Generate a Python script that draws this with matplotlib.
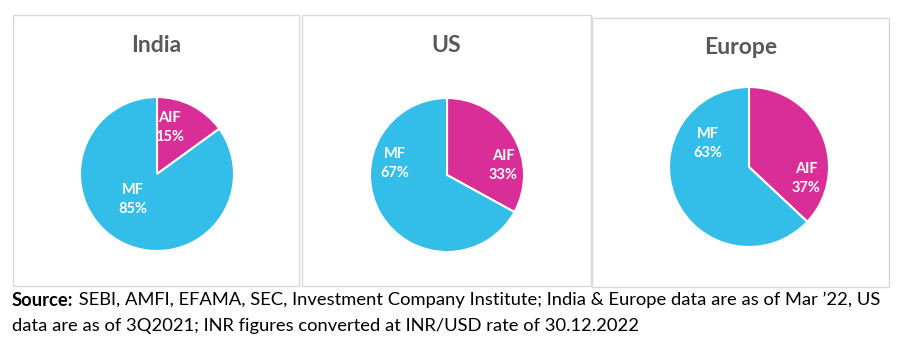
import matplotlib.pyplot as plt
import numpy as np
from matplotlib.patches import Rectangle

plt.rcParams['font.family'] = ['Lato', 'DejaVu Sans']

# data
regions = ['India', 'US', 'Europe']
segments = ['AIF', 'MF']
aif_share = [15, 33, 37]
mf_share = [85, 67, 63]

source_bold = 'Source:'
source_rest = (' SEBI, AMFI, EFAMA, SEC, Investment Company Institute; India & Europe data are as of Mar \u201922, US\n'
               'data are as of 3Q2021; INR figures converted at INR/USD rate of 30.12.2022')

# layout in pixels (panel box, pie centre + radius, title y)
W, H = 906, 346
panels = [(13, 15, 299, 286), (302, 15, 591, 286), (592, 18, 889, 287)]
pies = [(157, 174, 77), (447, 175, 77), (749, 167, 80)]
title_y = [45, 45, 47]
# label placement: (angle clockwise from top in deg, radius fraction) for AIF, MF
label_pos = [[(15, 0.63), (223, 0.46)],
             [(80, 0.74), (283, 0.69)],
             [(101, 0.73), (300, 0.59)]]

cyan = '#33BDE9'
magenta = '#D92E98'
grey = '#595959'


def fbox(x0, y0, x1, y1):
    return [x0 / W, 1 - y1 / H, (x1 - x0) / W, (y1 - y0) / H]


fig = plt.figure(figsize=(W / 100, H / 100), dpi=100)

for i, region in enumerate(regions):
    x0, y0, x1, y1 = panels[i]
    fig.add_artist(Rectangle((x0 / W, 1 - y1 / H), (x1 - x0) / W, (y1 - y0) / H,
                             transform=fig.transFigure, fill=False,
                             edgecolor='#D9D9D9', linewidth=1.0))
    fig.text((x0 + x1) / 2 / W, 1 - title_y[i] / H, region, ha='center', va='center',
             fontsize=16.5, fontweight='bold', color=grey)

    cx, cy, r = pies[i]
    ax = fig.add_axes(fbox(cx - r, cy - r, cx + r, cy + r))
    vals = [aif_share[i], mf_share[i]]
    ax.pie(vals, colors=[magenta, cyan], startangle=90, counterclock=False,
           radius=1, wedgeprops=dict(edgecolor='white', linewidth=1.5))
    ax.set_xlim(-1, 1)
    ax.set_ylim(-1, 1)
    ax.set_aspect('equal')
    ax.axis('off')
    for (ang, dist), name, v in zip(label_pos[i], segments, vals):
        a = np.deg2rad(ang)
        ax.text(dist * np.sin(a), dist * np.cos(a), f'{name}\n{v}%', ha='center', va='center',
                color='white', fontsize=10.5, fontweight='bold', linespacing=1.45)

t = fig.text(12 / W, 1 - 300 / H, source_bold, fontsize=13.2, fontweight='bold',
             ha='left', va='center', color='black')
fig.canvas.draw()
bb = t.get_window_extent()
fig.text(bb.x1 / W, 1 - 300 / H, source_rest.split('\n')[0], fontsize=13.2,
         ha='left', va='center', color='black')
fig.text(12 / W, 1 - 326 / H, source_rest.split('\n')[1], fontsize=13.2,
         ha='left', va='center', color='black')

fig.savefig('out.png', dpi=100, facecolor='white')
